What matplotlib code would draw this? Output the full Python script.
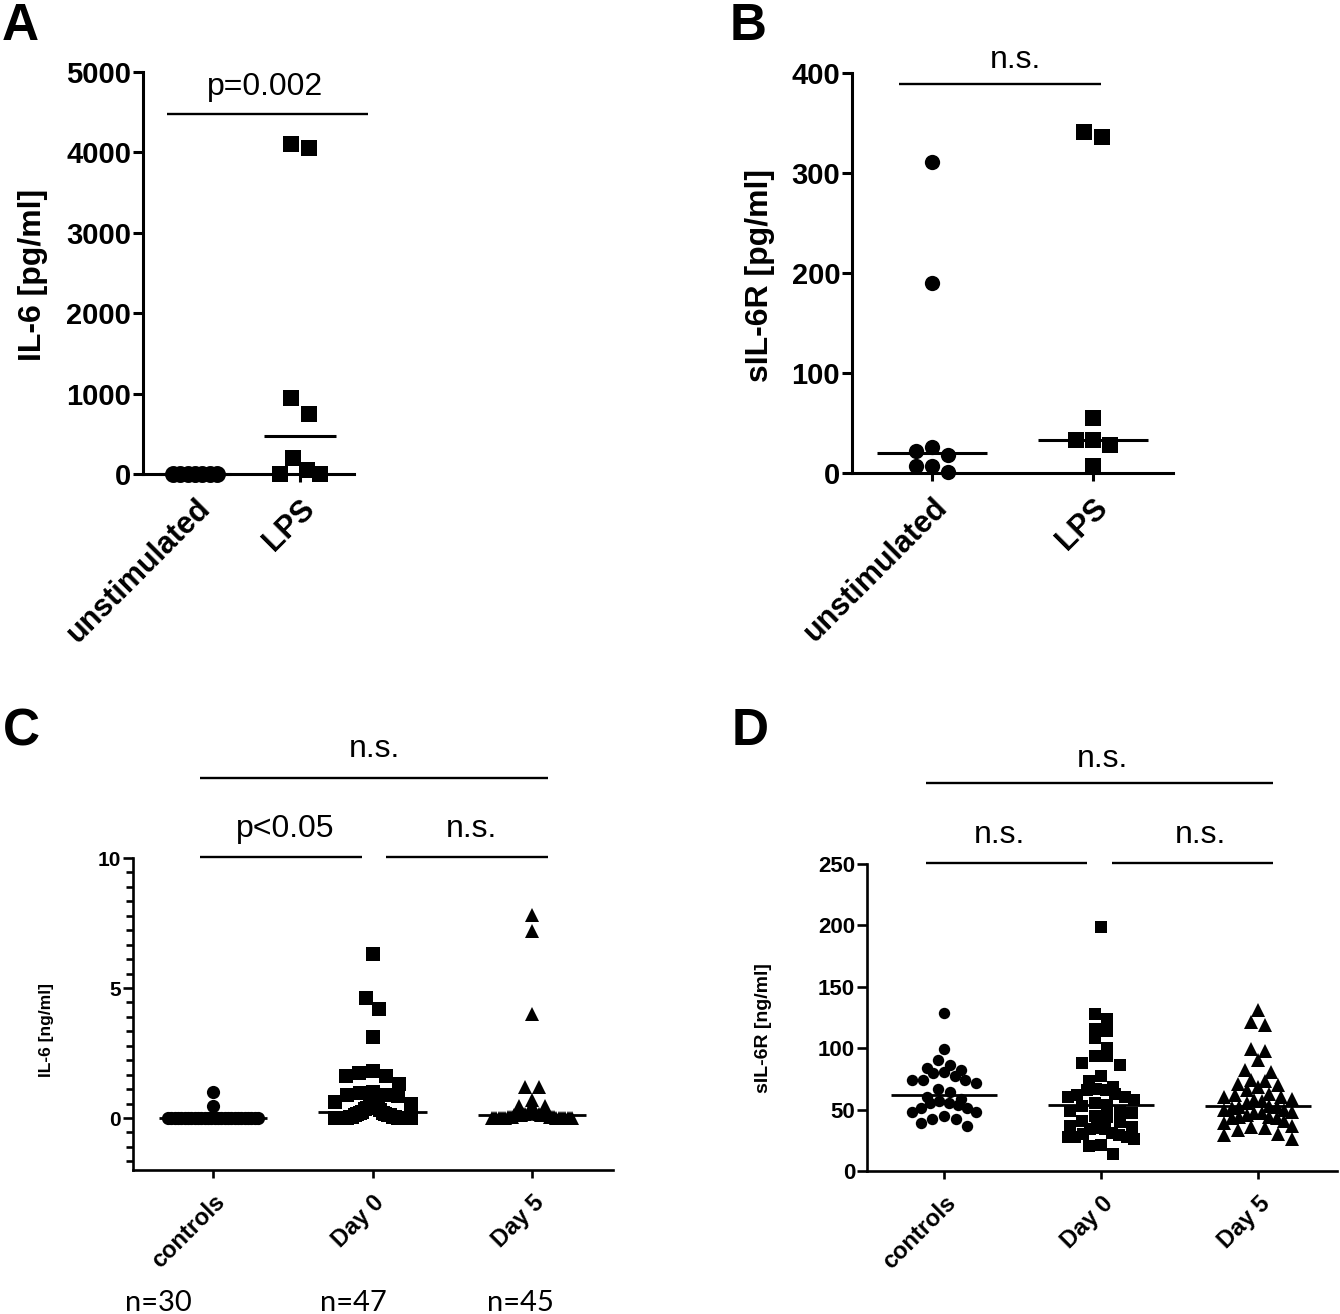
import numpy as np
import matplotlib
matplotlib.use("Agg")
import matplotlib.pyplot as plt
from matplotlib.lines import Line2D

W, H = 1340, 1314
plt.rcParams['font.family'] = ['Liberation Sans', 'DejaVu Sans']

# ---------------- data ----------------
a_categories = ["unstimulated", "LPS"]
a_unstim = [0, 0, 0, 0, 0, 0, 0]
a_lps = [4050, 4100, 950, 750, 200, 50, 0, 0]
a_yticks = [0, 1000, 2000, 3000, 4000, 5000]

b_categories = ["unstimulated", "LPS"]
b_unstim = [311, 190, 26, 22, 18, 7, 7, 1]
b_lps = [336, 341, 55, 33, 28, 33, 7]
b_yticks = [0, 100, 200, 300, 400]

c_categories = ["controls", "Day 0", "Day 5"]
c_controls = [1.0, 0.45, 0, 0, 0, 0, 0, 0, 0, 0, 0, 0, 0, 0, 0, 0,
              0, 0, 0, 0, 0, 0, 0, 0, 0, 0, 0, 0, 0, 0]
c_day0 = [6.3, 4.6, 4.2, 3.1, 1.8, 1.75, 1.6, 1.6, 1.3, 1.0, 0.95, 0.9, 0.9, 0.85,
          0.6, 0.55, 0.5, 0.5, 0.45, 0.4, 0.4, 0.35, 0.3, 0.25,
          0.2, 0.2, 0.15, 0.15, 0.1, 0.1, 0.1, 0.05, 0.05, 0.05, 0.05,
          0, 0, 0, 0, 0, 0, 0, 0, 0, 0, 0, 0]
c_day5 = [7.8, 7.2, 4.0, 1.2, 1.2, 0.7, 0.45, 0.45, 0.3, 0.3, 0.3, 0.2, 0.2,
          0.15, 0.15, 0.15, 0.1, 0.1, 0.1, 0.1, 0.1, 0.1, 0.1, 0.1,
          0.05, 0.05, 0.05, 0.05, 0.05, 0.05,
          0, 0, 0, 0, 0, 0, 0, 0, 0, 0, 0, 0, 0, 0, 0]
c_yticks = [0, 5, 10]
c_n_labels = ["n=30", "n=47", "n=45"]

d_categories = ["controls", "Day 0", "Day 5"]
d_controls = [129, 99, 90, 86, 84, 82, 81, 80, 77, 74, 74, 74, 72, 67, 64,
              60, 59, 57, 55, 55, 54, 51, 51, 48, 48, 45, 42, 42, 39, 37]
d_day0 = [199, 128, 124, 116, 114, 108, 100, 94, 94, 88, 86, 77, 73, 68, 67,
          66, 66, 63, 62, 60, 60, 58, 55, 54, 53, 49, 49, 47, 45, 44, 41, 40,
          37, 36, 35, 34, 34, 31, 30, 29, 28, 28, 28, 26, 21, 20, 14]
d_day5 = [131, 121, 119, 99, 98, 90, 82, 81, 74, 73, 71, 70, 68, 66, 63, 62,
          60, 60, 59, 58, 57, 55, 53, 52, 52, 51, 50, 50, 48, 47, 47, 46, 44,
          44, 43, 43, 41, 39, 37, 36, 35, 33, 30, 29, 26]
d_yticks = [0, 50, 100, 150, 200, 250]

# ---------------- helpers ----------------
fig = plt.figure(figsize=(W / 100, H / 100), dpi=100)


def make_axes(l, r, t, b, xlim, ylim):
    ax = fig.add_axes([l / W, 1 - b / H, (r - l) / W, (b - t) / H])
    ax.set_xlim(*xlim)
    ax.set_ylim(*ylim)
    for s in ("top", "right"):
        ax.spines[s].set_visible(False)
    ax.patch.set_alpha(0)
    return ax


def swarm_x(vals, c, ux, uy, md_px, maxhalf_px, binfac):
    v = np.asarray(vals, float)
    order = np.argsort(v, kind="stable")
    x = np.full(len(v), float(c))
    h = binfac * md_px / uy
    bins, cur, start = [], [order[0]], v[order[0]]
    for i in order[1:]:
        if v[i] - start < h:
            cur.append(i)
        else:
            bins.append(cur)
            cur, start = [i], v[i]
    bins.append(cur)
    for bset in bins:
        n = len(bset)
        if n == 1:
            continue
        step = min(md_px * 1.02, 2 * maxhalf_px / (n - 1))
        offs = (np.arange(n) - (n - 1) / 2) * step
        centre_first = np.argsort(np.abs(offs) + np.arange(n) * 1e-6, kind="stable")
        by_val = sorted(bset, key=lambda i: -v[i])
        for k, i in zip(centre_first, by_val):
            x[i] = c + offs[k] / ux
    return x


def draw_group(ax, vals, c, marker, ms_pt, maxhalf_px, ux, uy, med_lw, binfac=1.0):
    md_px = ms_pt * 100 / 72
    xs = swarm_x(vals, c, ux, uy, md_px, maxhalf_px, binfac)
    ax.plot(xs, vals, ls="none", marker=marker, ms=ms_pt, color="black",
            mew=0, clip_on=False, zorder=3)
    med = np.median(vals)
    ax.plot([c - 0.34, c + 0.34], [med, med], color="black", lw=med_lw,
            solid_capstyle="butt", clip_on=False, zorder=4)


def ftext(x, y, s, **kw):
    fig.text(x / W, 1 - y / H, s, **kw)


def fline(x0, x1, y, lw=1.7):
    fig.add_artist(Line2D([x0 / W, x1 / W], [1 - y / H, 1 - y / H],
                          transform=fig.transFigure, color="black", lw=lw,
                          solid_capstyle="butt"))


def style_axes(ax, yticks, cats, tick_fs, cat_fs, spine_lw, ylow, yhigh, xpad):
    for s in ("left", "bottom"):
        ax.spines[s].set_linewidth(spine_lw)
    ax.spines["left"].set_bounds(ylow, yhigh)
    ax.set_yticks(yticks)
    ax.set_yticklabels([str(t) for t in yticks], fontweight="bold", fontsize=tick_fs)
    ax.set_xticks(range(len(cats)))
    ax.set_xticklabels(cats, fontweight="bold", fontsize=cat_fs, rotation=45,
                       ha="right", va="top", rotation_mode="anchor")
    ax.tick_params(axis="y", direction="out", length=7, width=spine_lw, pad=1.5)
    ax.tick_params(axis="x", direction="out", length=6, width=spine_lw, pad=xpad)


# ---------------- Panel A ----------------
l, r, t, b = 143, 354, 72, 474
xlim = (-(195 - l) / 105, (r - 195) / 105)
axA = make_axes(l, r, t, b, xlim, (0, 5000))
uxA, uyA = 105, (b - t) / 5000
draw_group(axA, a_unstim, 0, "o", 12.2, 22, uxA, uyA, 2.2)
draw_group(axA, a_lps, 1, "s", 12.2, 20, uxA, uyA, 2.2)
style_axes(axA, a_yticks, a_categories, 21, 22, 2.2, 0, 5000, 8)

# ---------------- Panel B ----------------
l, r, t, b = 852, 1173, 73, 473
xlim = (-(932 - l) / 161, (r - 932) / 161)
axB = make_axes(l, r, t, b, xlim, (0, 400))
uxB, uyB = 161, (b - t) / 400
draw_group(axB, b_unstim, 0, "o", 11.0, 26, uxB, uyB, 2.2)
draw_group(axB, b_lps, 1, "s", 12.2, 26, uxB, uyB, 2.2)
style_axes(axB, b_yticks, b_categories, 21, 22, 2.2, 0, 400, 8)

# ---------------- Panel C ----------------
l, r, t, b = 133, 613, 858, 1170
xlim = (-(213 - l) / 159.5, (r - 213) / 159.5)
axC = make_axes(l, r, t, b, xlim, (-2, 10))
uxC, uyC = 159.5, (b - t) / 12
draw_group(axC, c_controls, 0, "o", 9.5, 45, uxC, uyC, 2.0, binfac=0.6)
draw_group(axC, c_day0, 1, "s", 9.5, 38, uxC, uyC, 2.0, binfac=1.0)
draw_group(axC, c_day5, 2, "^", 9.5, 40, uxC, uyC, 2.0, binfac=0.6)
style_axes(axC, c_yticks, c_categories, 15, 17, 1.9, -2, 10, 9)
axC.set_yticks([k * 5 / 9 for k in range(-3, 19) if k % 9 != 0], minor=True)
axC.tick_params(axis="y", which="minor", direction="out", length=5, width=1.9)

# ---------------- Panel D ----------------
l, r, t, b = 867, 1337, 864, 1171
xlim = (-(944 - l) / 157, (r - 944) / 157)
axD = make_axes(l, r, t, b, xlim, (0, 250))
uxD, uyD = 157, (b - t) / 250
draw_group(axD, d_controls, 0, "o", 8.2, 32, uxD, uyD, 2.0, binfac=1.0)
draw_group(axD, d_day0, 1, "s", 8.8, 33, uxD, uyD, 2.0, binfac=1.0)
draw_group(axD, d_day5, 2, "^", 9.5, 34, uxD, uyD, 2.0, binfac=1.0)
style_axes(axD, d_yticks, d_categories, 16, 17, 1.9, 0, 250, 9)

# ---------------- labels & annotations ----------------
ftext(2, 40, "A", fontsize=37, fontweight="bold", va="baseline", ha="left")
ftext(730, 40, "B", fontsize=37, fontweight="bold", va="baseline", ha="left")
ftext(3, 745, "C", fontsize=37, fontweight="bold", va="baseline", ha="left")
ftext(732, 745, "D", fontsize=37, fontweight="bold", va="baseline", ha="left")

ftext(33, 275, "IL-6 [pg/ml]", fontsize=23, fontweight="bold", rotation=90,
      ha="center", va="center")
ftext(760, 275, "sIL-6R [pg/ml]", fontsize=23, fontweight="bold", rotation=90,
      ha="center", va="center")
ftext(47, 1030, "IL-6 [ng/ml]", fontsize=12.5, fontweight="bold", rotation=90,
      ha="center", va="center")
ftext(763, 1028, "sIL-6R [ng/ml]", fontsize=14, fontweight="bold", rotation=90,
      ha="center", va="center")

# significance bars
fline(167, 368, 114)
ftext(265, 95, "p=0.002", fontsize=23, ha="center", va="baseline")
fline(899, 1101, 84)
ftext(1015, 68, "n.s.", fontsize=23, ha="center", va="baseline")

fline(200, 548, 778)
ftext(374, 757, "n.s.", fontsize=23, ha="center", va="baseline")
fline(200, 362, 857)
ftext(285, 837, "p<0.05", fontsize=23, ha="center", va="baseline")
fline(386, 548, 857)
ftext(471, 837, "n.s.", fontsize=23, ha="center", va="baseline")

fline(926, 1273, 783)
ftext(1102, 767, "n.s.", fontsize=23, ha="center", va="baseline")
fline(926, 1087, 863)
ftext(999, 843, "n.s.", fontsize=23, ha="center", va="baseline")
fline(1112, 1273, 863)
ftext(1200, 843, "n.s.", fontsize=23, ha="center", va="baseline")

for xc, lab in zip([158, 353, 520], c_n_labels):
    ftext(xc, 1311, lab, fontsize=21, family=["Lato", "DejaVu Sans"],
          ha="center", va="baseline")

fig.savefig("out.png", dpi=100)
